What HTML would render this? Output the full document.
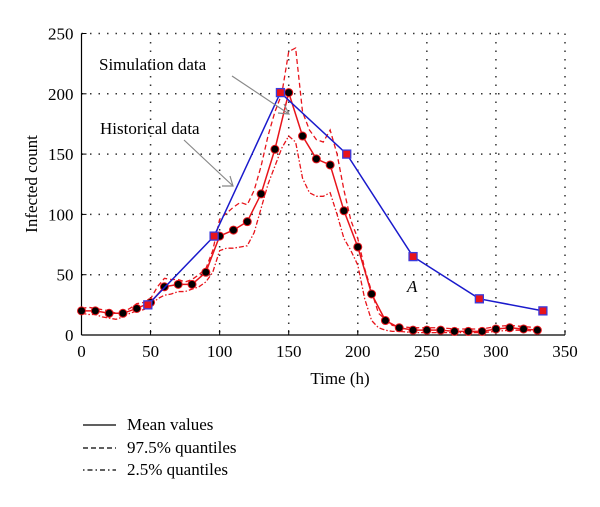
<!DOCTYPE html>
<html><head><meta charset="utf-8"><style>
body{margin:0;background:#fff;width:600px;height:502px;overflow:hidden}
text{font-family:"Liberation Serif",serif;fill:#000}
</style></head><body>
<svg id="chart" width="600" height="502" viewBox="0 0 600 502" xmlns="http://www.w3.org/2000/svg"></svg>
<script>
const xTicks=[0,50,100,150,200,250,300,350];
const yTicks=[0,50,100,150,200,250];
const meanT=[0,10,20,30,40,50,60,70,80,90,100,110,120,130,140,150,160,170,180,190,200,210,220,230,240,250,260,270,280,290,300,310,320,330];
const meanV=[20,20,18,18,22,27,40,42,42,52,82,87,94,117,154,201,165,146,141,103,73,34,12,6,4,4,4,3,3,3,5,6,5,4];
const qT=[0,5,10,15,20,25,30,35,40,45,50,55,60,65,70,75,80,85,90,95,100,105,110,115,120,125,130,135,140,145,150,155,160,165,170,175,180,185,190,195,200,205,210,215,220,225,230,240,250,260,270,280,290,300,310,320,330];
const upperV=[22,23,22,21,20,18,19,22,26,27,30,40,47,46,46,44,46,50,55,70,96,101,106,110,108,120,140,165,185,200,235,238,185,170,162,160,170,150,120,95,80,55,36,18,13,8,7,6,6,6,5,5,5,7,8,7,6];
const lowerV=[18,17,17,15,14,13,15,18,20,21,24,30,33,34,36,36,38,40,44,52,70,72,72,73,74,85,105,125,140,155,165,160,130,118,115,115,118,100,80,70,58,30,12,6,4,3,3,2,2,2,2,2,2,3,4,4,3];
const simT=[48,96,144,192,240,288,334];
const simV=[25,82,201,150,65,30,20];

const svg=document.getElementById('chart');
const NS='http://www.w3.org/2000/svg';
const X0=81.5,X1=565,Y0=335,Y1=33.5;
const sx=t=>X0+(X1-X0)*t/350, sy=v=>Y0-(Y0-Y1)*v/250;
function mk(tag,attrs,parent){const e=document.createElementNS(NS,tag);for(const k in attrs)e.setAttribute(k,attrs[k]);(parent||svg).appendChild(e);return e;}

const grid=mk('g',{});


xTicks.slice(1,-1).forEach(t=>mk('line',{x1:sx(t),x2:sx(t),y1:Y1,y2:Y0,stroke:'#333','stroke-width':1.5,'stroke-dasharray':'1.5 7'},grid));
yTicks.slice(1,-1).forEach(v=>mk('line',{x1:X0,x2:X1,y1:sy(v),y2:sy(v),stroke:'#333','stroke-width':1.5,'stroke-dasharray':'1.5 7'},grid));
mk('line',{x1:X1,x2:X1,y1:Y1,y2:Y0,stroke:'#333','stroke-width':1.5,'stroke-dasharray':'1.5 7'},grid);
mk('line',{x1:X0,x2:X1,y1:Y1,y2:Y1,stroke:'#333','stroke-width':1.5,'stroke-dasharray':'1.5 7'},grid);

const ax=mk('g',{});


mk('line',{x1:X0,x2:X1,y1:Y0,y2:Y0,stroke:'#000','stroke-width':1.2},ax);
mk('line',{x1:X0,x2:X0,y1:Y1,y2:Y0,stroke:'#000','stroke-width':1.2},ax);
xTicks.forEach(t=>{mk('line',{x1:sx(t),x2:sx(t),y1:Y0,y2:Y0-5,stroke:'#000'},ax);
 const tx=mk('text',{x:sx(t),y:Y0+22,'text-anchor':'middle','font-size':17},ax);tx.textContent=t;
 
 });
yTicks.forEach(v=>{mk('line',{x1:X0,x2:X0+5,y1:sy(v),y2:sy(v),stroke:'#000'},ax);
 const tx=mk('text',{x:X0-8,y:sy(v)+6,'text-anchor':'end','font-size':17},ax);tx.textContent=v;
 
 });
const xt=mk('text',{x:340,y:384,'text-anchor':'middle','font-size':17});xt.textContent='Time (h)';


const yt=mk('text',{x:0,y:0,'text-anchor':'middle','font-size':17,transform:'translate(37,184) rotate(-90)'});yt.textContent='Infected count';



function pts(T,V){return T.map((t,i)=>sx(t)+','+sy(V[i])).join(' ');}
const up=mk('polyline',{points:pts(qT,upperV),fill:'none',stroke:'#e8141b','stroke-width':1.3,'stroke-dasharray':'5 3'});


const lo=mk('polyline',{points:pts(qT,lowerV),fill:'none',stroke:'#e8141b','stroke-width':1.3,'stroke-dasharray':'5 2 1.5 2'});


const ml=mk('polyline',{points:pts(meanT,meanV),fill:'none',stroke:'#e8141b','stroke-width':1.5});


meanT.forEach((t,i)=>{const c=mk('circle',{cx:sx(t),cy:sy(meanV[i]),r:4,fill:'#000',stroke:'#e8141b','stroke-width':1});
 
 });
const sl=mk('polyline',{points:pts(simT,simV),fill:'none',stroke:'#1a1acc','stroke-width':1.5});


simT.forEach((t,i)=>{const r=mk('rect',{x:sx(t)-4,y:sy(simV[i])-4,width:8,height:8,fill:'#e8141b',stroke:'#3a3add','stroke-width':1.3});
 
 });

const an=mk('g',{});


let t1=mk('text',{x:99,y:70,'font-size':17},an);t1.textContent='Simulation data';
let t2=mk('text',{x:100,y:134,'font-size':17},an);t2.textContent='Historical data';
let t3=mk('text',{x:407,y:292,'font-size':17,'font-style':'italic'},an);t3.textContent='A';
mk('line',{x1:232,y1:76,x2:289,y2:114,stroke:'#888','stroke-width':1.2},an);
mk('polyline',{points:'278,113 289,114 284,104',fill:'none',stroke:'#888','stroke-width':1.2},an);
mk('line',{x1:184,y1:140,x2:233,y2:186,stroke:'#888','stroke-width':1.2},an);
mk('polyline',{points:'222,186 233,186 230,176',fill:'none',stroke:'#888','stroke-width':1.2},an);

const lg=mk('g',{});


[['Mean values','none',425],['97.5% quantiles','5 3',448],['2.5% quantiles','1.5 3 5 3',470]].forEach(([lab,d,y])=>{
 mk('line',{x1:83,x2:116,y1:y,y2:y,stroke:'#000','stroke-width':1.2,'stroke-dasharray':d},lg);
 const t=mk('text',{x:127,y:y+5,'font-size':17},lg);t.textContent=lab;
 
 });
</script>
</body></html>
